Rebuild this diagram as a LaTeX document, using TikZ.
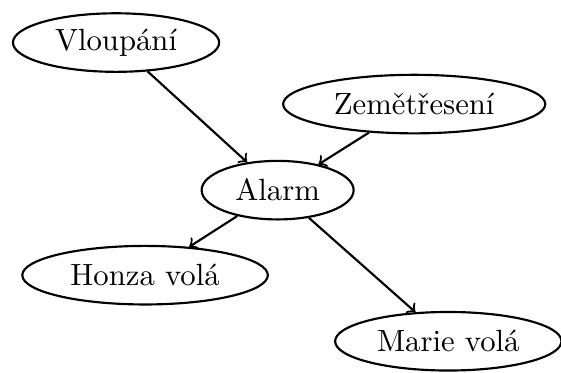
\documentclass[tikz,border=0pt]{standalone}
\usetikzlibrary{shapes.geometric}
\begin{document}
\begin{tikzpicture}[>=to,line width=0.7pt,
  uzel/.style={draw,ellipse,inner sep=0pt,minimum height=0.67cm}]
  \useasboundingbox (0,0) rectangle (6.42,4.26);
  \node[uzel,minimum width=2.36cm] (vloupani) at (1.328,3.773) {Vloupání};
  \node[uzel,minimum width=3.00cm] (zeme) at (4.74,3.069) {Zemětřesení};
  \node[uzel,minimum width=1.74cm] (alarm) at (3.177,2.084) {Alarm};
  \node[uzel,minimum width=2.81cm] (honza) at (1.66,1.111) {Honza volá};
  \node[uzel,minimum width=2.59cm] (marie) at (5.13,0.355) {Marie volá};
  \draw[->] (vloupani) -- (alarm);
  \draw[->] (zeme) -- (alarm);
  \draw[->] (alarm) -- (honza);
  \draw[->] (alarm) -- (marie);
\end{tikzpicture}
\end{document}
